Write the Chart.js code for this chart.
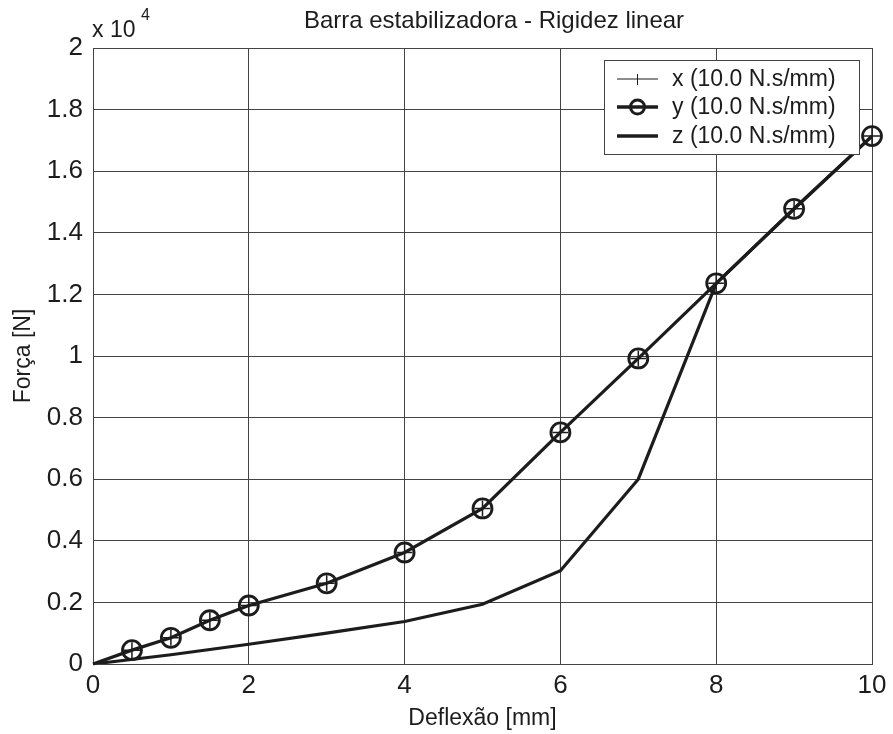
<!DOCTYPE html>
<html>
<head>
<meta charset="utf-8">
<script src="https://cdn.jsdelivr.net/npm/chart.js@4.4.1/dist/chart.umd.min.js"></script>
<style>
  html, body { margin: 0; padding: 0; background: #fff; }
  canvas { display: block; }
</style>
</head>
<body>
<canvas id="chart" width="893" height="734"></canvas>
<script>
// Data (force in N, deflection in mm)
const deflection  = [0, 0.5, 1, 1.5, 2, 3, 4, 5, 6, 7, 8, 9, 10];
const forceX      = [0, 450, 850, 1420, 1900, 2620, 3620, 5050, 7520, 9920, 12360, 14780, 17140];
const forceY      = [0, 450, 850, 1420, 1900, 2620, 3620, 5050, 7520, 9920, 12360, 14780, 17140];
const deflectionZ = [0, 1, 2, 3, 4, 5, 6, 7, 8, 9, 10];
const forceZ      = [0, 300, 640, 1000, 1380, 1940, 3030, 6000, 12360, 14780, 17140];
const seriesNames = ["x (10.0 N.s/mm)", "y (10.0 N.s/mm)", "z (10.0 N.s/mm)"];
const xTicks = [0, 2, 4, 6, 8, 10];
const yTicks = [0, 2000, 4000, 6000, 8000, 10000, 12000, 14000, 16000, 18000, 20000];

const FONT = "'Liberation Sans', Arial, sans-serif";
const INK  = "#1c1c1c";
const GRID = "#444";

const pts = (xs, ys) => xs.map((x, i) => ({ x, y: ys[i] }));
const markerRadius = xs => xs.map(x => x === 0 ? 0 : 8);

// title, exponent label and legend box
const decor = {
    id: "decor",
    afterDraw(chart) {
        const ctx = chart.ctx;
        ctx.save();
        ctx.fillStyle = INK;
        ctx.textBaseline = "alphabetic";
        ctx.textAlign = "center";

        ctx.font = `24px ${FONT}`;
        ctx.fillText("Barra estabilizadora - Rigidez linear", 494, 28);

        ctx.textAlign = "left";
        ctx.font = `23px ${FONT}`;
        ctx.fillText("x 10", 92, 37);
        ctx.font = `16px ${FONT}`;
        ctx.fillText("4", 141, 20);

        // legend
        const bx = 604, by = 60, bw = 255, bh = 94;
        ctx.fillStyle = "#fff";
        ctx.fillRect(bx, by, bw, bh);
        ctx.strokeStyle = GRID;
        ctx.lineWidth = 1;
        ctx.strokeRect(bx + 0.5, by + 0.5, bw, bh);

        const rows = [79, 107, 136];
        const widths = [1, 3.5, 3.5];
        rows.forEach((ry, i) => {
            ctx.strokeStyle = INK;
            ctx.lineWidth = widths[i];
            ctx.beginPath();
            ctx.moveTo(617, ry);
            ctx.lineTo(658, ry);
            ctx.stroke();
            if (i === 0) {
                ctx.lineWidth = 1;
                ctx.beginPath();
                ctx.moveTo(637.5, ry - 5);
                ctx.lineTo(637.5, ry + 6);
                ctx.stroke();
            }
            if (i === 1) {
                ctx.lineWidth = 3;
                ctx.beginPath();
                ctx.arc(637.5, ry, 7, 0, Math.PI * 2);
                ctx.stroke();
            }
            ctx.fillStyle = INK;
            ctx.font = `23px ${FONT}`;
            ctx.textBaseline = "middle";
            ctx.fillText(seriesNames[i], 672, ry + 1);
        });
        ctx.restore();
    }
};

new Chart(document.getElementById("chart"), {
    type: "line",
    data: {
        datasets: [
            {
                label: seriesNames[0], data: pts(deflection, forceX),
                borderColor: INK, borderWidth: 1, pointStyle: "cross",
                pointRadius: markerRadius(deflection), pointBorderWidth: 1.5,
                pointBorderColor: INK, fill: false, clip: false
            },
            {
                label: seriesNames[1], data: pts(deflection, forceY),
                borderColor: INK, borderWidth: 3.2, pointStyle: "circle",
                pointRadius: markerRadius(deflection).map(r => r && 9.5), pointBorderWidth: 2.8,
                pointBorderColor: INK, pointBackgroundColor: "rgba(0,0,0,0)", fill: false, clip: false
            },
            {
                label: seriesNames[2], data: pts(deflectionZ, forceZ),
                borderColor: INK, borderWidth: 3.2, pointRadius: 0, fill: false
            }
        ]
    },
    options: {
        responsive: false,
        animation: false,
        layout: { padding: { top: 48, right: 21, left: 0, bottom: 0 } },
        plugins: { legend: { display: false }, tooltip: { enabled: false } },
        scales: {
            x: {
                type: "linear", min: 0, max: 10,
                afterBuildTicks: s => { s.ticks = xTicks.map(v => ({ value: v })); },
                afterFit: s => { s.height = 70; },
                grid: { color: GRID, lineWidth: 1, drawTicks: false },
                border: { color: GRID, width: 1 },
                ticks: { color: INK, font: { family: FONT, size: 26 }, padding: 6, maxRotation: 0 },
                title: { display: true, text: "Deflexão [mm]", color: INK,
                         font: { family: FONT, size: 23 }, padding: { top: 0, bottom: 2 } }
            },
            y: {
                min: 0, max: 20000,
                afterBuildTicks: s => { s.ticks = yTicks.map(v => ({ value: v })); },
                afterFit: s => { s.width = 93; },
                grid: { color: GRID, lineWidth: 1, drawTicks: false },
                border: { color: GRID, width: 1 },
                ticks: { color: INK, font: { family: FONT, size: 26 }, padding: 10,
                         callback: v => String(Math.round(v / 1000) / 10) },
                title: { display: true, text: "Força [N]", color: INK,
                         font: { family: FONT, size: 23 }, padding: { top: 10, bottom: 0 } }
            }
        }
    },
    plugins: [decor]
});
</script>
</body>
</html>
